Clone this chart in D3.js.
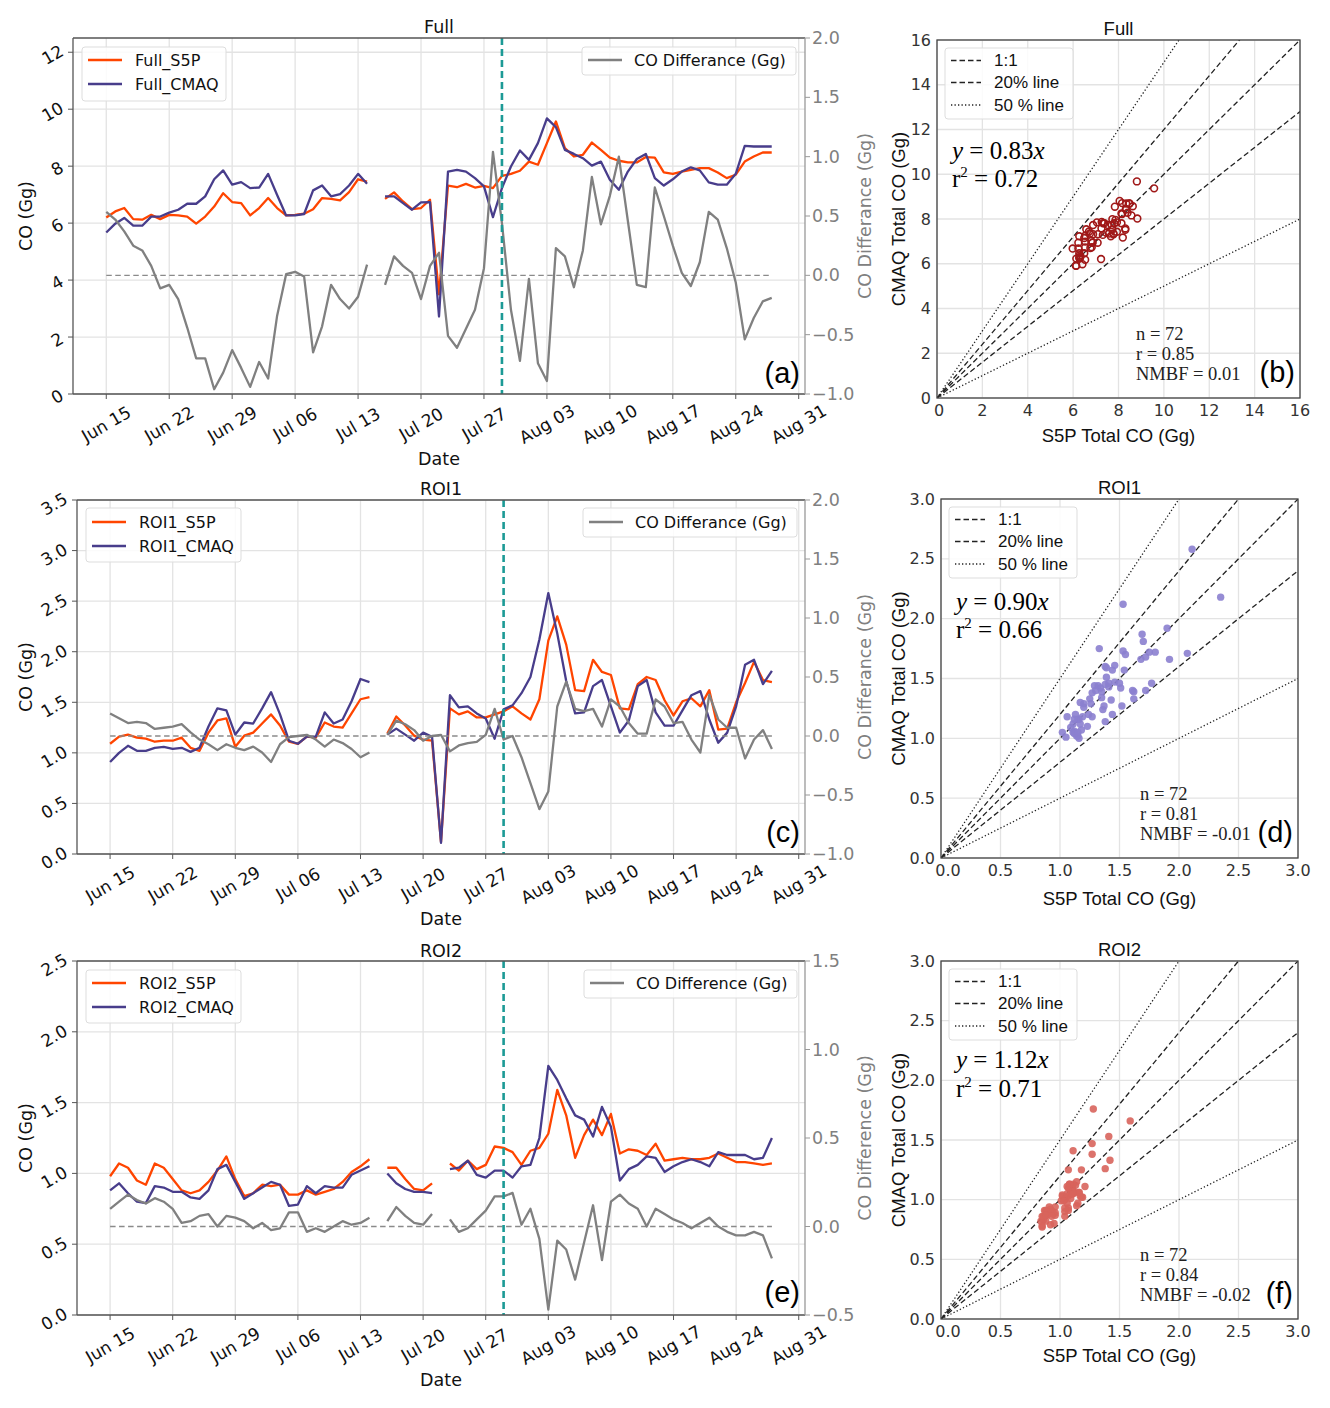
<!DOCTYPE html>
<html><head><meta charset="utf-8">
<script src="https://cdn.jsdelivr.net/npm/d3@7"></script>
<style>body{margin:0;background:#fff} svg{display:block}</style>
</head><body>
<svg id="c" width="1330" height="1408"></svg>
<script>
// ---------------- DATA ----------------
const startDate = "2019-06-15";
const xTickLabels = ["Jun 15","Jun 22","Jun 29","Jul 06","Jul 13","Jul 20","Jul 27","Aug 03","Aug 10","Aug 17","Aug 24","Aug 31"];
const eventDate = "2019-07-29";
const scatterExcludedDates = ["2019-06-15","2019-07-22"];

const fullS5P = [6.2,6.41,6.53,6.14,6.12,6.29,6.14,6.29,6.27,6.23,5.98,6.23,6.58,7.05,6.74,6.70,6.27,6.53,6.88,6.53,6.27,6.29,6.33,6.49,6.88,6.85,6.80,7.09,7.54,7.46,null,6.85,7.08,6.76,6.49,6.53,6.82,3.5,7.32,7.26,7.38,7.25,7.31,7.23,7.66,7.73,7.84,8.16,8.05,8.81,9.57,8.63,8.34,8.40,8.83,8.57,8.30,8.19,8.13,8.13,8.32,8.30,7.78,7.73,7.81,7.87,7.93,7.93,7.78,7.58,7.70,8.16,8.34,8.48,8.48];
const fullCMAQ = [5.67,5.98,6.18,5.91,5.91,6.23,6.23,6.37,6.47,6.68,6.68,6.94,7.54,7.85,7.35,7.44,7.23,7.25,7.73,6.99,6.27,6.27,6.32,7.15,7.32,6.94,7.02,7.32,7.73,7.38,null,6.94,6.94,6.70,6.47,6.73,6.74,2.72,7.81,7.87,7.81,7.58,7.29,6.21,7.23,7.99,8.55,8.22,8.81,9.68,9.37,8.57,8.43,8.28,8.02,8.16,7.52,7.17,7.81,8.25,8.43,7.58,7.32,7.54,7.81,7.96,7.85,7.43,7.35,7.35,7.73,8.71,8.69,8.69,8.69];
const fullDiff = [0.535,0.47,0.37,0.25,0.21,0.08,-0.11,-0.08,-0.20,-0.44,-0.70,-0.70,-0.96,-0.82,-0.63,-0.78,-0.94,-0.73,-0.87,-0.34,0.01,0.03,-0.01,-0.65,-0.43,-0.08,-0.20,-0.28,-0.18,0.09,null,-0.08,0.16,0.08,0.02,-0.20,0.08,0.19,-0.51,-0.61,-0.45,-0.29,0.06,1.04,0.44,-0.29,-0.72,-0.03,-0.74,-0.89,0.23,0.16,-0.10,0.21,0.83,0.43,0.67,1.00,0.46,-0.08,-0.10,0.74,0.50,0.25,0.02,-0.09,0.11,0.535,0.47,0.23,-0.06,-0.54,-0.36,-0.22,-0.19];

const roi1S5P = [1.09,1.16,1.18,1.15,1.14,1.11,1.12,1.12,1.15,1.05,1.02,1.20,1.32,1.34,1.06,1.17,1.20,1.29,1.38,1.27,1.11,1.09,1.16,1.15,1.30,1.26,1.25,1.39,1.53,1.55,null,1.19,1.36,1.27,1.17,1.13,1.12,0.12,1.44,1.38,1.41,1.35,1.35,1.38,1.41,1.46,1.39,1.33,1.53,2.11,2.35,2.07,1.62,1.61,1.92,1.80,1.77,1.44,1.43,1.68,1.75,1.72,1.52,1.37,1.51,1.54,1.46,1.62,1.23,1.24,1.50,1.69,1.90,1.72,1.70];
const roi1CMAQ = [0.91,1.00,1.07,1.02,1.02,1.05,1.06,1.04,1.05,1.01,1.05,1.26,1.44,1.42,1.18,1.30,1.29,1.44,1.60,1.38,1.12,1.09,1.16,1.16,1.40,1.29,1.33,1.51,1.73,1.70,null,1.18,1.24,1.18,1.12,1.20,1.16,0.11,1.57,1.45,1.46,1.39,1.34,1.14,1.43,1.47,1.59,1.75,2.12,2.58,2.18,1.71,1.39,1.40,1.66,1.72,1.46,1.20,1.32,1.66,1.72,1.40,1.27,1.27,1.42,1.57,1.61,1.33,1.10,1.20,1.46,1.87,1.92,1.68,1.81];
const roi1Diff = [0.19,0.15,0.11,0.12,0.11,0.06,0.07,0.08,0.10,0.03,-0.03,-0.07,-0.12,-0.07,-0.10,-0.12,-0.09,-0.14,-0.22,-0.07,-0.01,0.00,0.01,-0.03,-0.09,-0.03,-0.06,-0.11,-0.18,-0.14,null,0.01,0.13,0.10,0.05,-0.04,0.00,0.01,-0.13,-0.08,-0.06,-0.05,0.01,0.23,-0.03,0.00,-0.18,-0.40,-0.62,-0.47,0.25,0.46,0.23,0.21,0.23,0.08,0.31,0.25,0.11,0.02,0.02,0.31,0.25,0.11,0.12,-0.03,-0.14,0.35,0.14,0.07,0.07,-0.19,-0.03,0.05,-0.11];

const roi2S5P = [0.98,1.07,1.04,0.95,0.92,1.07,1.04,0.96,0.88,0.86,0.88,0.94,1.02,1.12,0.96,0.84,0.86,0.92,0.91,0.92,0.85,0.85,0.88,0.85,0.87,0.89,0.94,1.01,1.05,1.10,null,1.04,1.04,0.96,0.89,0.88,0.93,null,1.07,1.02,1.09,1.03,1.06,1.19,1.18,1.15,1.06,1.16,1.18,1.28,1.59,1.41,1.11,1.27,1.38,1.27,1.42,1.14,1.17,1.16,1.13,1.21,1.09,1.10,1.11,1.10,1.10,1.11,1.14,1.11,1.08,1.08,1.07,1.06,1.07];
const roi2CMAQ = [0.88,0.93,0.86,0.80,0.79,0.91,0.90,0.87,0.87,0.83,0.82,0.88,1.03,1.06,0.94,0.82,0.86,0.90,0.94,0.92,0.77,0.78,0.91,0.86,0.91,0.90,0.90,0.99,1.02,1.05,null,1.00,0.93,0.89,0.87,0.87,0.86,null,1.03,1.04,1.09,0.99,0.97,1.02,1.02,0.97,1.05,1.06,1.25,1.76,1.66,1.53,1.41,1.38,1.26,1.47,1.33,0.95,1.03,1.06,1.12,1.11,1.01,1.05,1.08,1.10,1.08,1.05,1.15,1.13,1.13,1.13,1.10,1.11,1.25];
const roi2Diff = [0.10,0.14,0.18,0.15,0.13,0.16,0.14,0.10,0.02,0.03,0.06,0.07,0.00,0.06,0.05,0.03,-0.01,0.02,-0.02,-0.01,0.08,0.08,-0.03,-0.01,-0.03,0.00,0.03,0.01,0.02,0.05,null,0.03,0.11,0.06,0.02,0.01,0.07,null,0.04,-0.03,-0.01,0.04,0.09,0.17,0.17,0.19,0.01,0.10,-0.07,-0.47,-0.08,-0.13,-0.30,-0.09,0.12,-0.19,0.14,0.18,0.13,0.10,0.00,0.10,0.07,0.04,0.02,-0.01,0.02,0.05,0.00,-0.03,-0.05,-0.05,-0.03,-0.05,-0.18];

const leftTicksFull = [0,2,4,6,8,10,12];
const leftTicksROI1 = [0,0.5,1.0,1.5,2.0,2.5,3.0,3.5];
const leftTicksROI2 = [0,0.5,1.0,1.5,2.0,2.5];
const rightTicksAC = [-1.0,-0.5,0,0.5,1.0,1.5,2.0];
const rightTicksE = [-0.5,0,0.5,1.0,1.5];
const scatterTicksFull = [0,2,4,6,8,10,12,14,16];
const scatterTicksROI = [0,0.5,1.0,1.5,2.0,2.5,3.0];

const refLines = [
  {label:"1:1", slopes:[1], dash:"5.5,3"},
  {label:"20% line", slopes:[1.2,0.8], dash:"5.5,3"},
  {label:"50 % line", slopes:[1.5,0.5], dash:"1.3,2.2"}
];
const statsFull = ["0.83","0.72","72","0.85","0.01"];
const statsROI1 = ["0.90","0.66","72","0.81","-0.01"];
const statsROI2 = ["1.12","0.71","72","0.84","-0.02"];

// ---------------- DRAW ----------------
const svg = d3.select("#c");
const DJ = "DejaVu Sans";
const AR = "Liberation Sans, Arial, sans-serif";
const SERIF = "Liberation Serif, Times New Roman, serif";
const ORANGE = "#ff4500", PURPLE = "#483d8b", GRAY = "#808080", TEAL = "#1c9a96";
const GRID = "#e3e3e3";

const parseDay = d3.timeParse("%Y-%m-%d");
const parseTick = d3.timeParse("%b %d %Y");
const dates = fullS5P.map((_, i) => d3.timeDay.offset(parseDay(startDate), i));
const tickDates = xTickLabels.map(l => parseTick(l + " 2019"));
const excludedIdx = scatterExcludedDates.map(s => d3.timeDay.count(parseDay(startDate), parseDay(s)));

const tsPanels = [
  {x0:73, x1:805, y0:38, y1:394, title:"Full", titleY:33, dateY:465, s5p:fullS5P, cmaq:fullCMAQ, diff:fullDiff,
   names:["Full_S5P","Full_CMAQ"], diffName:"CO Differance (Gg)", yMax:12.5, yTicks:leftTicksFull, yFmt:d3.format("d"),
   rDom:[-1,2], rTicks:rightTicksAC, label:"(a)", labelY:383, legL:[82,47,144,54,60,84], legR:[582,47,214,28,60], tyOff:2.5},
  {x0:77, x1:805, y0:500, y1:854, title:"ROI1", titleY:495, dateY:925, s5p:roi1S5P, cmaq:roi1CMAQ, diff:roi1Diff,
   names:["ROI1_S5P","ROI1_CMAQ"], diffName:"CO Differance (Gg)", yMax:3.5, yTicks:leftTicksROI1, yFmt:d3.format(".1f"),
   rDom:[-1,2], rTicks:rightTicksAC, label:"(c)", labelY:842, legL:[86,508,155,54,522,546], legR:[583,508,214,29,522], tyOff:4},
  {x0:77, x1:805, y0:961, y1:1315, title:"ROI2", titleY:957, dateY:1386, s5p:roi2S5P, cmaq:roi2CMAQ, diff:roi2Diff,
   names:["ROI2_S5P","ROI2_CMAQ"], diffName:"CO Difference (Gg)", yMax:2.5, yTicks:leftTicksROI2, yFmt:d3.format(".1f"),
   rDom:[-0.5,1.5], rTicks:rightTicksE, label:"(e)", labelY:1302, legL:[86,970,155,53,983,1007], legR:[584,970,213,28,983], tyOff:4}
];

tsPanels.forEach(p => {
  const g = svg.append("g");
  const ext = d3.extent(dates);
  const span = ext[1] - ext[0];
  const x = d3.scaleTime().domain([new Date(+ext[0] - 0.05*span), new Date(+ext[1] + 0.05*span)]).range([p.x0, p.x1]);
  const y = d3.scaleLinear().domain([0, p.yMax]).range([p.y1, p.y0]);
  const r = d3.scaleLinear().domain(p.rDom).range([p.y1, p.y0]);

  // grid
  g.selectAll(".vg").data(tickDates).join("line").attr("x1", d=>x(d)).attr("x2", d=>x(d))
    .attr("y1", p.y0).attr("y2", p.y1).attr("stroke", GRID).attr("stroke-width", 1.3);
  g.selectAll(".hg").data(p.yTicks).join("line").attr("x1", p.x0).attr("x2", p.x1)
    .attr("y1", d=>y(d)).attr("y2", d=>y(d)).attr("stroke", GRID).attr("stroke-width", 1.3);

  // lines
  const lineL = d3.line().defined(d => d != null).x((d,i)=>x(dates[i])).y(d=>y(d));
  const lineR = d3.line().defined(d => d != null).x((d,i)=>x(dates[i])).y(d=>r(d));
  g.append("path").attr("d", lineL(p.s5p)).attr("fill","none").attr("stroke",ORANGE).attr("stroke-width",2.3).attr("stroke-linejoin","round");
  g.append("path").attr("d", lineL(p.cmaq)).attr("fill","none").attr("stroke",PURPLE).attr("stroke-width",2.3).attr("stroke-linejoin","round");
  g.append("line").attr("x1", x(dates[0])).attr("x2", x(dates[dates.length-1])).attr("y1", r(0)).attr("y2", r(0))
    .attr("stroke", "#8a8a8a").attr("stroke-width",1.4).attr("stroke-dasharray","5.5,3.5");
  g.append("path").attr("d", lineR(p.diff)).attr("fill","none").attr("stroke",GRAY).attr("stroke-width",2.3).attr("stroke-linejoin","round");
  const ev = parseDay(eventDate);
  g.append("line").attr("x1", x(ev)).attr("x2", x(ev)).attr("y1", p.y0).attr("y2", p.y1)
    .attr("stroke", TEAL).attr("stroke-width", 2.6).attr("stroke-dasharray","7,4");

  // spines
  g.append("line").attr("x1",p.x0).attr("x2",p.x1).attr("y1",p.y0).attr("y2",p.y0).attr("stroke","#555").attr("stroke-width",1.3);
  g.append("line").attr("x1",p.x0).attr("x2",p.x1).attr("y1",p.y1).attr("y2",p.y1).attr("stroke","#555").attr("stroke-width",1.3);
  g.append("line").attr("x1",p.x0).attr("x2",p.x0).attr("y1",p.y0).attr("y2",p.y1).attr("stroke","#555").attr("stroke-width",1.3);
  g.append("line").attr("x1",p.x1).attr("x2",p.x1).attr("y1",p.y0).attr("y2",p.y1).attr("stroke","#999").attr("stroke-width",1.3);

  // x ticks
  g.selectAll(".xt").data(tickDates).join("line").attr("x1",d=>x(d)).attr("x2",d=>x(d)).attr("y1",p.y1).attr("y2",p.y1+5).attr("stroke","#555");
  g.selectAll(".xl").data(tickDates).join("text")
    .attr("transform", d=>`translate(${x(d)},${p.y1+30}) rotate(-30)`)
    .attr("text-anchor","middle").attr("dominant-baseline","central")
    .style("font-family",DJ).style("font-size","17px").attr("fill","#111")
    .text((d,i)=>xTickLabels[i]);

  // left ticks (rotated)
  g.selectAll(".yt").data(p.yTicks).join("line").attr("x1",p.x0-5).attr("x2",p.x0).attr("y1",d=>y(d)).attr("y2",d=>y(d)).attr("stroke","#555");
  const yl = g.selectAll(".yl").data(p.yTicks).join("text")
    .attr("text-anchor","middle").attr("dominant-baseline","central")
    .style("font-family",DJ).style("font-size","17px").attr("fill","#111")
    .text(d=>p.yFmt(d));
  yl.each(function(d){
    const L = this.getComputedTextLength();
    const W = L*Math.cos(Math.PI/6) + 12.5*Math.sin(Math.PI/6);
    d3.select(this).attr("transform", `translate(${p.x0-8-W/2},${y(d)+p.tyOff}) rotate(-30)`);
  });

  // right ticks
  g.selectAll(".rt").data(p.rTicks).join("line").attr("x1",p.x1).attr("x2",p.x1+5).attr("y1",d=>r(d)).attr("y2",d=>r(d)).attr("stroke","#999");
  g.selectAll(".rl").data(p.rTicks).join("text").attr("x",p.x1+7).attr("y",d=>r(d))
    .attr("dominant-baseline","central").style("font-family",DJ).style("font-size","17.5px").attr("fill",GRAY)
    .text(d=>d3.format(".1f")(d));

  // labels
  g.append("text").attr("x",(p.x0+p.x1)/2).attr("y",p.titleY).attr("text-anchor","middle")
    .style("font-family",DJ).style("font-size","17.5px").attr("fill","#111").text(p.title);
  g.append("text").attr("x",(p.x0+p.x1)/2).attr("y",p.dateY).attr("text-anchor","middle")
    .style("font-family",DJ).style("font-size","17.5px").attr("fill","#111").text("Date");
  g.append("text").attr("transform",`translate(26,${(p.y0+p.y1)/2}) rotate(-90)`).attr("text-anchor","middle")
    .attr("dominant-baseline","central").style("font-family",DJ).style("font-size","17.5px").attr("fill","#111").text("CO (Gg)");
  g.append("text").attr("transform",`translate(865,${(p.y0+p.y1)/2}) rotate(-90)`).attr("text-anchor","middle")
    .attr("dominant-baseline","central").style("font-family",DJ).style("font-size","17.5px").attr("fill",GRAY).text(p.diffName);
  g.append("text").attr("x",800).attr("y",p.labelY).attr("text-anchor","end")
    .style("font-family",AR).style("font-size","29px").attr("fill","#000").text(p.label);

  // legends
  const [lx,ly,lw,lh,r1,r2] = p.legL;
  g.append("rect").attr("x",lx).attr("y",ly).attr("width",lw).attr("height",lh).attr("rx",3)
    .attr("fill","#fff").attr("fill-opacity",0.85).attr("stroke","#dddddd");
  [[ORANGE,p.names[0],r1],[PURPLE,p.names[1],r2]].forEach(([c,t,yy])=>{
    g.append("line").attr("x1",lx+6).attr("x2",lx+40).attr("y1",yy).attr("y2",yy).attr("stroke",c).attr("stroke-width",2.3);
    g.append("text").attr("x",lx+53).attr("y",yy).attr("dominant-baseline","central")
      .style("font-family",DJ).style("font-size","16px").attr("fill","#111").text(t);
  });
  const [rx,ry,rw,rh,rr] = p.legR;
  g.append("rect").attr("x",rx).attr("y",ry).attr("width",rw).attr("height",rh).attr("rx",3)
    .attr("fill","#fff").attr("fill-opacity",0.85).attr("stroke","#dddddd");
  g.append("line").attr("x1",rx+6).attr("x2",rx+40).attr("y1",rr).attr("y2",rr).attr("stroke",GRAY).attr("stroke-width",2.3);
  g.append("text").attr("x",rx+52).attr("y",rr).attr("dominant-baseline","central")
    .style("font-family",DJ).style("font-size","16px").attr("fill","#111").text(p.diffName);
});

// ---------------- SCATTER ----------------
const scPanels = [
  {x0:937, x1:1300, y0:40, y1:398, max:16, ticks:scatterTicksFull, fmt:d3.format("d"), s5p:fullS5P, cmaq:fullCMAQ,
   open:true, color:"#a01818", title:"Full", titleY:35, xlabY:442, stats:statsFull, label:"(b)", eqY:[159,187], zeroShift:2},
  {x0:941, x1:1298, y0:499, y1:858, max:3, ticks:scatterTicksROI, fmt:d3.format(".1f"), s5p:roi1S5P, cmaq:roi1CMAQ,
   open:false, color:"#8b80cf", title:"ROI1", titleY:494, xlabY:905, stats:statsROI1, label:"(d)", eqY:[610,638], zeroShift:7},
  {x0:941, x1:1298, y0:961, y1:1319, max:3, ticks:scatterTicksROI, fmt:d3.format(".1f"), s5p:roi2S5P, cmaq:roi2CMAQ,
   open:false, color:"#d8645c", title:"ROI2", titleY:956, xlabY:1362, stats:statsROI2, label:"(f)", eqY:[1068,1097], zeroShift:7}
];

scPanels.forEach((p, k) => {
  const g = svg.append("g");
  const x = d3.scaleLinear().domain([0,p.max]).range([p.x0,p.x1]);
  const y = d3.scaleLinear().domain([0,p.max]).range([p.y1,p.y0]);
  const cid = "clip"+k;
  g.append("clipPath").attr("id",cid).append("rect").attr("x",p.x0).attr("y",p.y0).attr("width",p.x1-p.x0).attr("height",p.y1-p.y0);

  g.selectAll(".vg").data(p.ticks).join("line").attr("x1",d=>x(d)).attr("x2",d=>x(d)).attr("y1",p.y0).attr("y2",p.y1).attr("stroke",GRID).attr("stroke-width",1.3);
  g.selectAll(".hg").data(p.ticks).join("line").attr("y1",d=>y(d)).attr("y2",d=>y(d)).attr("x1",p.x0).attr("x2",p.x1).attr("stroke",GRID).attr("stroke-width",1.3);

  const lg = g.append("g").attr("clip-path",`url(#${cid})`);
  refLines.forEach(rl => rl.slopes.forEach(s => {
    lg.append("line").attr("x1",x(0)).attr("y1",y(0)).attr("x2",x(p.max)).attr("y2",y(p.max*s))
      .attr("stroke","#222").attr("stroke-width",1.3).attr("stroke-dasharray",rl.dash);
  }));

  const pts = p.s5p.map((v,i)=>[v,p.cmaq[i],i]).filter(d=>d[0]!=null && d[1]!=null && !excludedIdx.includes(d[2]));
  lg.selectAll(".pt").data(pts).join("circle").attr("cx",d=>x(d[0])).attr("cy",d=>y(d[1]))
    .attr("r", p.open ? 3.4 : 3.7)
    .attr("fill", p.open ? "none" : p.color).attr("fill-opacity", p.open ? 0 : 0.9)
    .attr("stroke", p.open ? p.color : "none").attr("stroke-width", 1.6);

  g.append("rect").attr("x",p.x0).attr("y",p.y0).attr("width",p.x1-p.x0).attr("height",p.y1-p.y0)
    .attr("fill","none").attr("stroke","#444").attr("stroke-width",1.3);

  g.selectAll(".xl").data(p.ticks).join("text").attr("x",d=>x(d) + (d===0 ? p.zeroShift : 0)).attr("y",p.y1+18).attr("text-anchor","middle")
    .style("font-family",DJ).style("font-size","16px").attr("fill","#333").text(d=>p.fmt(d));
  g.selectAll(".yl").data(p.ticks).join("text").attr("x",p.x0-6).attr("y",d=>y(d)).attr("text-anchor","end")
    .attr("dominant-baseline","central").style("font-family",DJ).style("font-size","16px").attr("fill","#333").text(d=>p.fmt(d));

  g.append("text").attr("x",(p.x0+p.x1)/2).attr("y",p.titleY).attr("text-anchor","middle")
    .style("font-family",AR).style("font-size","18.5px").attr("fill","#111").text(p.title);
  g.append("text").attr("x",(p.x0+p.x1)/2).attr("y",p.xlabY).attr("text-anchor","middle")
    .style("font-family",AR).style("font-size","18.5px").attr("fill","#111").text("S5P Total CO (Gg)");
  g.append("text").attr("transform",`translate(898,${(p.y0+p.y1)/2}) rotate(-90)`).attr("text-anchor","middle")
    .attr("dominant-baseline","central").style("font-family",AR).style("font-size","18.5px").attr("fill","#111").text("CMAQ Total CO (Gg)");

  // legend
  const lx = p.x0+8, ly = p.y0+8;
  g.append("rect").attr("x",lx).attr("y",ly).attr("width",128).attr("height",71).attr("rx",3)
    .attr("fill","#fff").attr("fill-opacity",0.85).attr("stroke","#dddddd");
  refLines.forEach((rl,i)=>{
    const yy = p.y0 + [20.5,42.5,65][i];
    g.append("line").attr("x1",p.x0+14).attr("x2",p.x0+44).attr("y1",yy).attr("y2",yy)
      .attr("stroke","#222").attr("stroke-width",1.3).attr("stroke-dasharray",rl.dash);
    g.append("text").attr("x",p.x0+57).attr("y",yy).attr("dominant-baseline","central")
      .style("font-family",AR).style("font-size","17px").attr("fill","#111").text(rl.label);
  });

  // stats
  const eq = g.append("text").attr("x",p.x0+15).attr("y",p.eqY[0]).style("font-family",SERIF).style("font-size","25px").attr("fill","#000");
  eq.append("tspan").style("font-style","italic").text("y");
  eq.append("tspan").text(" = " + p.stats[0]);
  eq.append("tspan").style("font-style","italic").text("x");
  const r2 = g.append("text").attr("x",p.x0+15).attr("y",p.eqY[1]).style("font-family",SERIF).style("font-size","25px").attr("fill","#000");
  r2.append("tspan").text("r");
  r2.append("tspan").attr("dy",-10).style("font-size","15px").text("2");
  r2.append("tspan").attr("dy",10).text(" = " + p.stats[1]);
  const sx = p.x0+199;
  [["n = ",2,-58],["r = ",3,-38],["NMBF = ",4,-18]].forEach(([t,i,dy])=>{
    g.append("text").attr("x",sx).attr("y",p.y1+dy).style("font-family",SERIF).style("font-size","18.5px").attr("fill","#222")
      .text(t + p.stats[i]);
  });
  g.append("text").attr("x",p.x1-5).attr("y",p.y1-16).attr("text-anchor","end")
    .style("font-family",AR).style("font-size","29px").attr("fill","#000").text(p.label);
});
</script>
</body></html>
